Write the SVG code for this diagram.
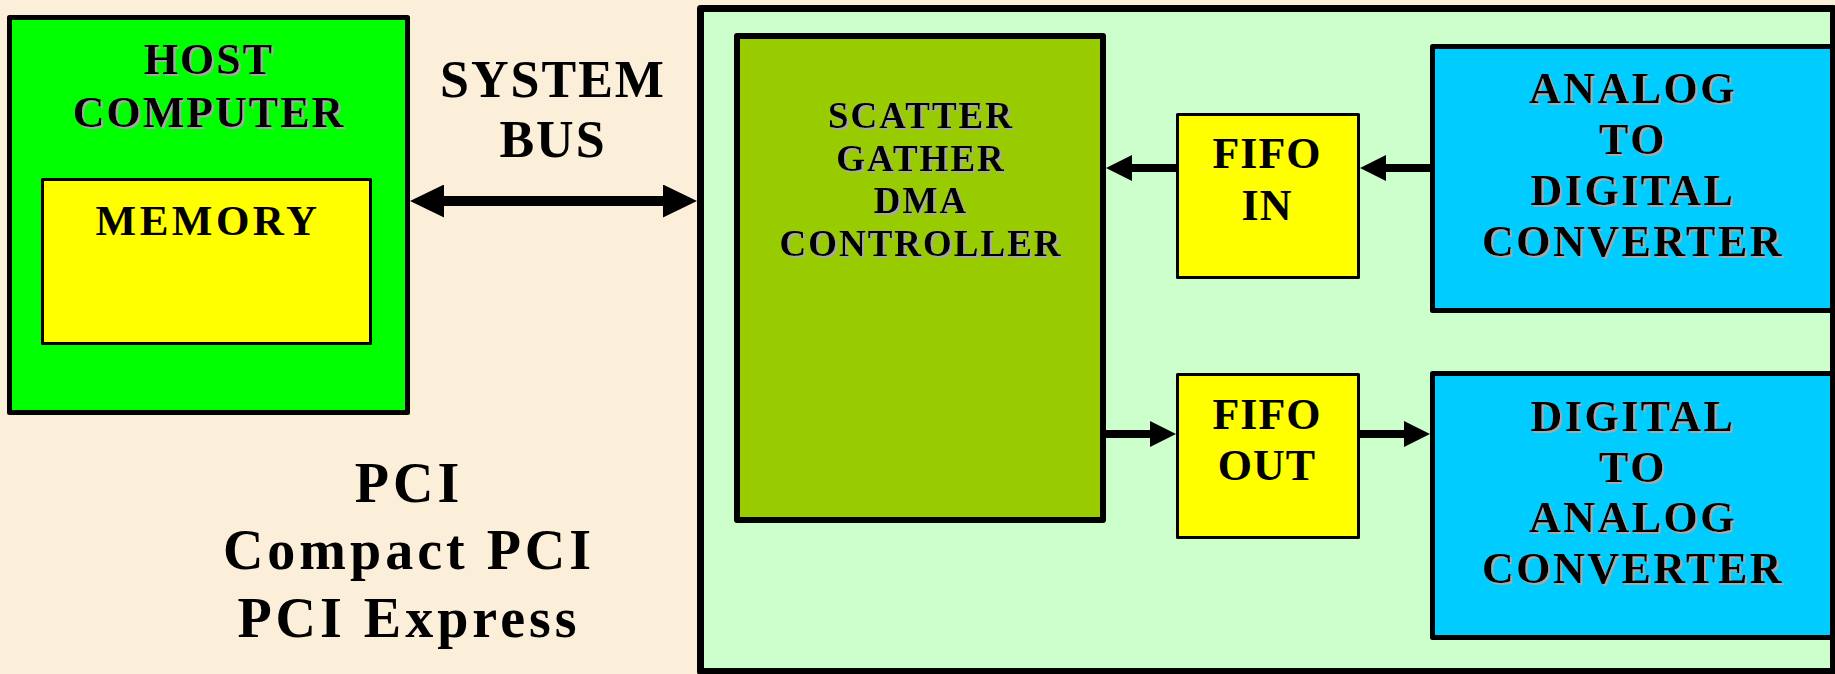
<svg xmlns="http://www.w3.org/2000/svg" width="1835" height="674" viewBox="0 0 1835 674">
<style>
  .t { font-family: "Liberation Serif", "Times New Roman", serif; font-weight: bold; fill: #000; text-anchor: middle; }
  .box { stroke: #000; stroke-linejoin: round; }
  .conn { stroke: #000; fill: none; }
</style>
<defs>
  <filter id="sh" x="-10%" y="-20%" width="120%" height="140%">
    <feOffset in="SourceAlpha" dx="2" dy="2" result="o"/>
    <feFlood flood-color="#a8a8a8"/>
    <feComposite in2="o" operator="in" result="s"/>
    <feMerge><feMergeNode in="s"/><feMergeNode in="SourceGraphic"/></feMerge>
  </filter>
  <marker id="bigHead" markerUnits="userSpaceOnUse" markerWidth="34" markerHeight="33" viewBox="0 0 34 33" refX="2" refY="16.5" orient="auto-start-reverse">
    <path d="M0,0 L34,16.5 L0,33 Z" fill="#000"/>
  </marker>
  <marker id="smallHead" markerUnits="userSpaceOnUse" markerWidth="26" markerHeight="26" viewBox="0 0 26 26" refX="2" refY="13" orient="auto">
    <path d="M0,0 L26,13 L0,26 Z" fill="#000"/>
  </marker>
</defs>
<rect x="0" y="0" width="1835" height="674" fill="#FBEFD9"/>

<g id="host-computer">
  <rect class="box" x="9.5" y="17.5" width="398" height="395" fill="#00FF00" stroke-width="5"/>
  <text class="t" x="209" y="74" font-size="44" letter-spacing="2" filter="url(#sh)">HOST</text>
  <text class="t" x="209" y="127" font-size="44" letter-spacing="2" filter="url(#sh)">COMPUTER</text>
</g>
<g id="memory">
  <rect class="box" x="42.5" y="179.5" width="328" height="164" fill="#FFFF00" stroke-width="3"/>
  <text class="t" x="208" y="235" font-size="43" letter-spacing="3.5">MEMORY</text>
</g>

<g id="system-bus-label">
  <text class="t" x="553" y="97" font-size="52" letter-spacing="2">SYSTEM</text>
  <text class="t" x="553" y="157" font-size="52" letter-spacing="2">BUS</text>
</g>

<g id="bus-labels">
  <text class="t" x="409" y="502" font-size="56" letter-spacing="4">PCI</text>
  <text class="t" x="409" y="569" font-size="56" letter-spacing="4">Compact PCI</text>
  <text class="t" x="409" y="637" font-size="56" letter-spacing="4">PCI Express</text>
</g>

<g id="board">
  <rect class="box" x="700.5" y="8.5" width="1133" height="663" fill="#CCFFCC" stroke-width="7"/>
</g>

<g id="dma-controller">
  <rect class="box" x="737" y="36" width="366" height="484" fill="#99CC00" stroke-width="6"/>
  <text class="t" x="921" y="128" font-size="37" letter-spacing="2" filter="url(#sh)">SCATTER</text>
  <text class="t" x="921" y="170.5" font-size="37" letter-spacing="2" filter="url(#sh)">GATHER</text>
  <text class="t" x="921" y="213" font-size="37" letter-spacing="2" filter="url(#sh)">DMA</text>
  <text class="t" x="921" y="255.5" font-size="37" letter-spacing="2" filter="url(#sh)">CONTROLLER</text>
</g>

<g id="fifo-in">
  <rect class="box" x="1177.5" y="114.5" width="181" height="163" fill="#FFFF00" stroke-width="3"/>
  <text class="t" x="1267" y="168" font-size="44" letter-spacing="1">FIFO</text>
  <text class="t" x="1267" y="220" font-size="44" letter-spacing="1">IN</text>
</g>

<g id="fifo-out">
  <rect class="box" x="1177.5" y="374.5" width="181" height="163" fill="#FFFF00" stroke-width="3"/>
  <text class="t" x="1267" y="429" font-size="44" letter-spacing="1">FIFO</text>
  <text class="t" x="1267" y="480" font-size="44" letter-spacing="1">OUT</text>
</g>

<g id="adc">
  <rect class="box" x="1432.5" y="46.5" width="400" height="264" fill="#00CCFF" stroke-width="5"/>
  <text class="t" x="1633" y="103" font-size="44" letter-spacing="2.5" filter="url(#sh)">ANALOG</text>
  <text class="t" x="1633" y="154" font-size="44" letter-spacing="2.5" filter="url(#sh)">TO</text>
  <text class="t" x="1633" y="205" font-size="44" letter-spacing="2.5" filter="url(#sh)">DIGITAL</text>
  <text class="t" x="1633" y="256" font-size="44" letter-spacing="2.5" filter="url(#sh)">CONVERTER</text>
</g>

<g id="dac">
  <rect class="box" x="1432.5" y="373.5" width="400" height="264" fill="#00CCFF" stroke-width="5"/>
  <text class="t" x="1633" y="431" font-size="44" letter-spacing="2.5" filter="url(#sh)">DIGITAL</text>
  <text class="t" x="1633" y="482" font-size="44" letter-spacing="2.5" filter="url(#sh)">TO</text>
  <text class="t" x="1633" y="532" font-size="44" letter-spacing="2.5" filter="url(#sh)">ANALOG</text>
  <text class="t" x="1633" y="583" font-size="44" letter-spacing="2.5" filter="url(#sh)">CONVERTER</text>
</g>

<g id="connectors">
  <path class="conn" d="M442,201 L665,201" stroke-width="10" marker-start="url(#bigHead)" marker-end="url(#bigHead)"/>
  <path class="conn" d="M1177,168 L1130,168" stroke-width="8" marker-end="url(#smallHead)"/>
  <path class="conn" d="M1431,168 L1384,168" stroke-width="8" marker-end="url(#smallHead)"/>
  <path class="conn" d="M1105,434 L1152,434" stroke-width="8" marker-end="url(#smallHead)"/>
  <path class="conn" d="M1359,434 L1406,434" stroke-width="8" marker-end="url(#smallHead)"/>
</g>
</svg>
